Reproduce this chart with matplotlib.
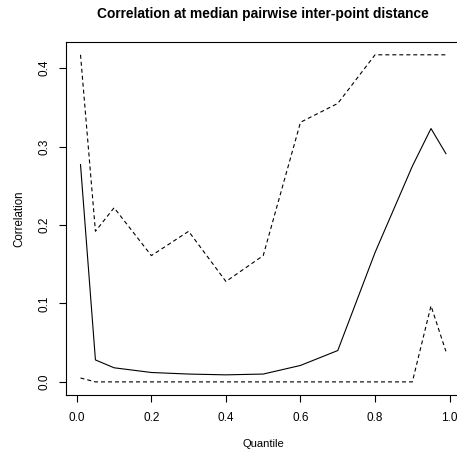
import matplotlib
matplotlib.use("Agg")
import matplotlib.pyplot as plt

# quantiles and correlation values (estimate with lower / upper bounds)
quantile = [0.01, 0.05, 0.1, 0.2, 0.3, 0.4, 0.5, 0.6, 0.7, 0.8, 0.9, 0.95, 0.99]
corr = [0.277, 0.028, 0.018, 0.012, 0.010, 0.009, 0.010, 0.021, 0.040, 0.165, 0.275, 0.323, 0.291]
upper = [0.417, 0.192, 0.222, 0.161, 0.192, 0.128, 0.161, 0.331, 0.355, 0.417, 0.417, 0.417, 0.417]
lower = [0.005, 0.0, 0.0, 0.0, 0.0, 0.0, 0.0, 0.0, 0.0, 0.0, 0.0, 0.097, 0.039]

xticks = [0.0, 0.2, 0.4, 0.6, 0.8, 1.0]
yticks = [0.0, 0.1, 0.2, 0.3, 0.4]

plt.rcParams['font.family'] = ['Liberation Sans', 'DejaVu Sans']

fig = plt.figure(figsize=(4.57, 4.51), dpi=100)
ax = fig.add_axes([0.1442, 0.1242, 0.8635, 0.7833])

dash = (0, (3.6, 2.7))
ax.plot(quantile, corr, color='black', lw=0.8)
ax.plot(quantile, upper, color='black', lw=0.8, linestyle=dash)
ax.plot(quantile, lower, color='black', lw=0.8, linestyle=dash)

# R style 4% padding
xmin, xmax = min(quantile), max(quantile)
ymin, ymax = min(lower), max(upper)
dx = (xmax - xmin) * 0.04
dy = (ymax - ymin) * 0.04
ax.set_xlim(xmin - dx, xmax + dx)
ax.set_ylim(ymin - dy, ymax + dy)

ax.set_xticks(xticks)
ax.set_xticklabels([f"{t:.1f}" for t in xticks])
ax.set_yticks(yticks)
ax.set_yticklabels([f"{t:.1f}" for t in yticks], rotation=90, va='center')
ax.tick_params(direction='out', length=5, width=0.8, labelsize=8.5)
ax.tick_params(axis='x', pad=7)
ax.tick_params(axis='y', pad=6)

for s in ax.spines.values():
    s.set_linewidth(0.8)

ax.set_xlabel("Quantile", fontsize=8, labelpad=11)
ax.set_ylabel("Correlation", fontsize=8.3, labelpad=9.5)
# title centred over the plot region, as R does
xc = (0.1442 + 0.1442 + 0.8635) / 2
fig.text(xc, 1 - 14 / 451, "Correlation at median pairwise inter-point distance",
         ha='center', va='center', fontsize=9.9, fontweight='bold')

fig.savefig("out.png", dpi=100)
